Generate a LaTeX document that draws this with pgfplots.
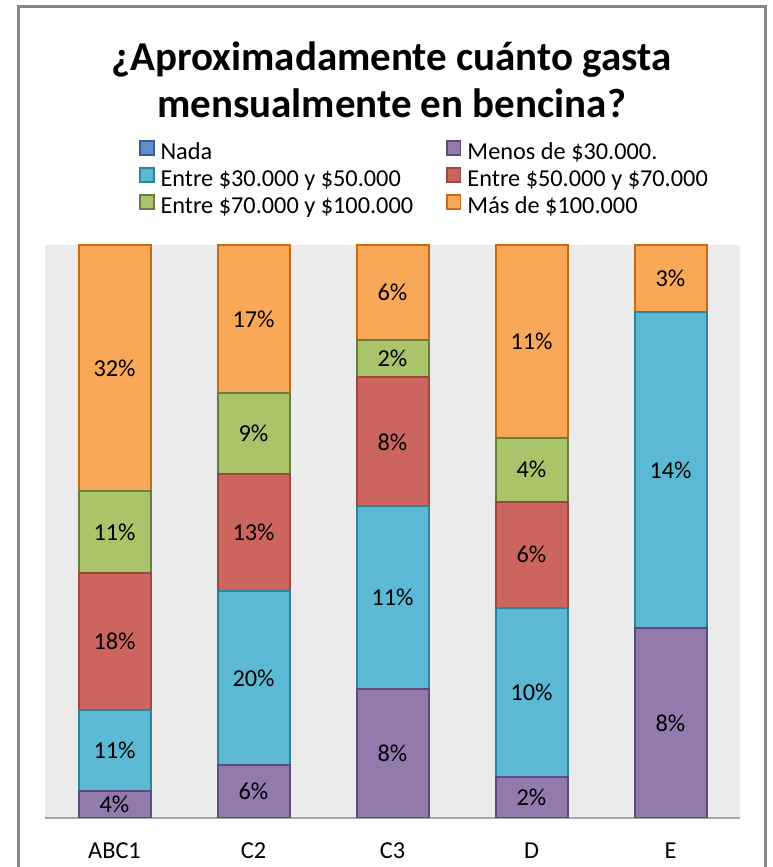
\documentclass[border=0pt]{standalone}
\usepackage{pgfplots}
\pgfplotsset{compat=1.18}
\usepackage{pgfplotstable}
\usepackage{fontspec}
\setmainfont{Carlito}
\definecolor{cNadaF}{RGB}{94,143,200}\definecolor{cNadaD}{RGB}{55,95,145}
\definecolor{cMenF}{RGB}{146,122,175}\definecolor{cMenD}{RGB}{94,75,124}
\definecolor{cE30F}{RGB}{91,185,211}\definecolor{cE30D}{RGB}{47,130,153}
\definecolor{cE50F}{RGB}{205,101,95}\definecolor{cE50D}{RGB}{160,70,66}
\definecolor{cE70F}{RGB}{170,196,106}\definecolor{cE70D}{RGB}{104,125,62}
\definecolor{cMasF}{RGB}{249,168,88}\definecolor{cMasD}{RGB}{200,105,20}
\definecolor{bgGray}{RGB}{235,235,235}
\definecolor{frameGray}{RGB}{136,136,136}
\definecolor{axGray}{RGB}{166,166,166}
% share of each column (percent of bar height)
\pgfplotstableread{
x menos e30 e50 e70 mas
0 4.7  14.1 23.9 14.3 43.0
1 9.2  30.5 20.4 14.0 25.9
2 22.5 31.9 22.5 6.5  16.6
3 7.2  29.5 18.5 11.2 33.6
4 33.2 55.1 0    0    11.7
}\datatable
\pgfplotstableread{
x y lab
0 2.35 4
0 11.75 11
0 30.75 18
0 49.85 11
0 78.5 32
1 4.6 6
1 24.45 20
1 49.9 13
1 67.1 9
1 87.05 17
2 11.25 8
2 38.45 11
2 65.65 8
2 80.15 2
2 91.7 6
3 3.6 2
3 21.95 10
3 45.95 6
3 60.8 4
3 83.2 11
4 16.6 8
4 60.75 14
4 94.15 3
}\labtable
\begin{document}
\begin{tikzpicture}
\useasboundingbox (0,0) rectangle (773pt,867pt);
\draw[line width=3pt, frameGray] (18pt,-20pt) -- (18pt,860pt) -- (765pt,860pt) -- (765pt,-20pt);
\begin{axis}[
  at={(45pt,49pt)}, anchor=south west,
  scale only axis, width=695pt, height=573pt,
  ybar stacked, bar width=72pt,
  xmin=-0.5, xmax=4.5, ymin=0, ymax=100,
  axis background/.style={fill=bgGray},
  axis x line*=bottom, axis y line=none,
  x axis line style={-, draw=axGray, line width=2pt},
  xtick={0,1,2,3,4},
  xticklabels={ABC1,C2,C3,D,E},
  xtick style={draw=none},
  ytick=\empty,
  xticklabel style={font=\fontsize{24.3}{28}\selectfont, anchor=base, yshift=-40pt},
  title={¿Aproximadamente cuánto gasta\\mensualmente en bencina?},
  title style={at={(rel axis cs:0.4986,1.344)}, anchor=north, align=center, inner sep=0pt,
    font=\fontsize{41}{47}\selectfont\bfseries},
  legend columns=2,
  legend cell align=left,
  legend style={at={(rel axis cs:0.1353,1.1832)}, anchor=north west, draw=none, fill=none,
    inner sep=0pt, font=\fontsize{24.3}{28}\selectfont,
    nodes={inner xsep=0pt, inner ysep=2pt, text height=17pt, text depth=6pt},
    /tikz/column sep=6pt,
    /tikz/every even column/.append style={column sep=33pt}},
  legend image code/.code={\draw[#1, line width=1.8pt] (0pt,-1pt) rectangle (13.5pt,12.5pt);},
  every axis plot/.append style={line width=2pt},
]
\addlegendimage{fill=cNadaF, draw=cNadaD}
\addlegendentry{Nada}
\addplot[fill=cMenF, draw=cMenD] table[x=x, y=menos] {\datatable};
\addlegendentry{Menos de \$30.000.}
\addplot[fill=cE30F, draw=cE30D] table[x=x, y=e30] {\datatable};
\addlegendentry{Entre \$30.000 y \$50.000}
\addplot[fill=cE50F, draw=cE50D] table[x=x, y=e50] {\datatable};
\addlegendentry{Entre \$50.000 y \$70.000}
\addplot[fill=cE70F, draw=cE70D] table[x=x, y=e70] {\datatable};
\addlegendentry{Entre \$70.000 y \$100.000}
\addplot[fill=cMasF, draw=cMasD] table[x=x, y=mas] {\datatable};
\addlegendentry{Más de \$100.000}
\end{axis}
\begin{axis}[
  at={(45pt,49pt)}, anchor=south west,
  scale only axis, width=695pt, height=573pt,
  xmin=-0.5, xmax=4.5, ymin=0, ymax=100,
  hide axis,
]
\addplot[draw=none, mark=none, nodes near coords={\pgfplotspointmeta\%},
  point meta=explicit symbolic,
  nodes near coords style={anchor=center, font=\fontsize{24.3}{28}\selectfont, text=black}]
  table[x=x, y=y, meta=lab] {\labtable};
\end{axis}
\end{tikzpicture}
\end{document}
